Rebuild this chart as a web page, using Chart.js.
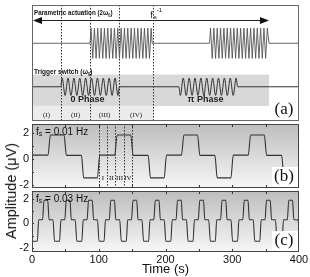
<!DOCTYPE html>
<html>
<head>
<meta charset="utf-8">
<script src="https://cdn.jsdelivr.net/npm/chart.js@4.4.0/dist/chart.umd.min.js"></script>
<style>
  body { margin: 0; background: #fff; width: 310px; height: 277px; overflow: hidden; position: relative; }
  canvas { position: absolute; left: 0; }
  #ylab { position: absolute; left: 11px; top: 191px; transform: translate(-50%, -50%) rotate(-90deg);
          font: 14.5px "Liberation Sans", Arial, sans-serif; color: #111; white-space: nowrap; }
</style>
</head>
<body>
<canvas id="chartA" width="310" height="124" style="top:0px"></canvas>
<canvas id="chartB" width="310" height="80" style="top:115px"></canvas>
<canvas id="chartC" width="310" height="95" style="top:182px"></canvas>
<div id="ylab">Amplitude (μV)</div>
<script>
// ---- panel (a): schematic, arbitrary 0-100 vertical units ----
const actTime = [0, 87,
  88.5, 91, 93.5, 96, 98.5, 101, 103.5, 106, 108.5, 111, 113.5, 116, 118.5, 121, 123.5, 126, 128.5, 131, 133.5,
  136, 138.5, 141, 143.5, 146, 148.5, 151, 153.5, 156, 158.5, 161, 163.5, 166, 168.5, 171, 173.5, 176, 178.5,
  180, 266,
  267.5, 270, 272.5, 275, 277.5, 280, 282.5, 285, 287.5, 290, 292.5, 295, 297.5, 300, 302.5, 305, 307.5, 310,
  312.5, 315, 317.5, 320, 322.5, 325, 327.5, 330, 332.5, 335, 337.5, 340, 342.5, 345, 347.5, 350, 352.5,
  355, 400];
const actLevel = [67, 67,
  80, 54, 80, 54, 80, 54, 80, 54, 80, 54, 80, 54, 80, 54, 80, 54, 80, 54, 80,
  54, 80, 54, 80, 54, 80, 54, 80, 54, 80, 54, 80, 54, 80, 54, 80, 54, 80,
  67, 67,
  80, 54, 80, 54, 80, 54, 80, 54, 80, 54, 80, 54, 80, 54, 80, 54, 80, 54,
  80, 54, 80, 54, 80, 54, 80, 54, 80, 54, 80, 54, 80, 54, 80, 54, 80,
  67, 67];

const trigTime = [0, 43,
  45.2, 49.6, 54, 58.4, 62.8, 67.2, 71.6, 76, 80.4, 84.8, 89.2, 93.6, 98, 102.4, 106.8, 111.2, 115.6, 120, 124.4, 128.8,
  131, 220,
  222.2, 226.6, 231, 235.4, 239.8, 244.2, 248.6, 253, 257.4, 261.8, 266.2, 270.6, 275, 279.4, 283.8, 288.2, 292.6, 297, 301.4, 305.8,
  308, 400];
const trigLevel = [29.5, 29.5,
  37, 22, 37, 22, 37, 22, 37, 22, 37, 22, 37, 22, 37, 22, 37, 22, 37, 22, 37, 22,
  29.5, 29.5,
  22, 37, 22, 37, 22, 37, 22, 37, 22, 37, 22, 37, 22, 37, 22, 37, 22, 37, 22, 37,
  29.5, 29.5];

const phaseEdgesA = [43.5, 87, 130.5, 181.5];
const phaseNamesA = ['(I)', '(II)', '(III)', '(IV)'];

// ---- panel (b): fs = 0.01 Hz ----
const bTime = [0, 24, 27.5, 48, 51.5, 74, 77.5, 98,
  101.5, 124, 127.5, 148, 151.5, 174, 177.5, 198,
  201.5, 224, 227.5, 248, 251.5, 274, 277.5, 298,
  301.5, 324, 327.5, 348, 351.5, 374, 377.5, 398, 400];
const bAmp = [0.3, 0.3, 1.85, 1.85, 0.28, 0.28, -1.45, -1.45,
  0.3, 0.3, 1.85, 1.85, 0.28, 0.28, -1.45, -1.45,
  0.3, 0.3, 1.85, 1.85, 0.28, 0.28, -1.45, -1.45,
  0.3, 0.3, 1.85, 1.85, 0.28, 0.28, -1.45, -1.45, -0.9];
const phaseEdgesB = [100, 112.5, 125, 137.5, 150];
const phaseNamesB = ['I', 'II', 'III', 'IV'];

// ---- panel (c): fs = 0.03 Hz ----
const cTime = [
  0, 8, 10, 15.8, 18, 23.6, 25.6, 31.4,
  33.8, 41.3, 43.3, 49.1, 51.3, 56.9, 58.9, 64.7,
  67.2, 74.7, 76.7, 82.5, 84.7, 90.3, 92.3, 98.1,
  100.5, 108, 110, 115.8, 118, 123.6, 125.6, 131.4,
  133.8, 141.3, 143.3, 149.1, 151.3, 156.9, 158.9, 164.7,
  167.2, 174.7, 176.7, 182.5, 184.7, 190.3, 192.3, 198.1,
  200.5, 208, 210, 215.8, 218, 223.6, 225.6, 231.4,
  233.8, 241.3, 243.3, 249.1, 251.3, 256.9, 258.9, 264.7,
  267.2, 274.7, 276.7, 282.5, 284.7, 290.3, 292.3, 298.1,
  300.5, 308, 310, 315.8, 318, 323.6, 325.6, 331.4,
  333.8, 341.3, 343.3, 349.1, 351.3, 356.9, 358.9, 364.7,
  367.2, 374.7, 376.7, 382.5, 384.7, 390.3, 392.3, 398.1, 400];
const cAmp = [
  -1.45, -1.45, 0.3, 0.3, 1.9, 1.9, 0.3, 0.3,
  -1.45, -1.45, 0.3, 0.3, 1.9, 1.9, 0.3, 0.3,
  -1.45, -1.45, 0.3, 0.3, 1.9, 1.9, 0.3, 0.3,
  -1.45, -1.45, 0.3, 0.3, 1.9, 1.9, 0.3, 0.3,
  -1.45, -1.45, 0.3, 0.3, 1.9, 1.9, 0.3, 0.3,
  -1.45, -1.45, 0.3, 0.3, 1.9, 1.9, 0.3, 0.3,
  -1.45, -1.45, 0.3, 0.3, 1.9, 1.9, 0.3, 0.3,
  -1.45, -1.45, 0.3, 0.3, 1.9, 1.9, 0.3, 0.3,
  -1.45, -1.45, 0.3, 0.3, 1.9, 1.9, 0.3, 0.3,
  -1.45, -1.45, 0.3, 0.3, 1.9, 1.9, 0.3, 0.3,
  -1.45, -1.45, 0.3, 0.3, 1.9, 1.9, 0.3, 0.3,
  -1.45, -1.45, 0.3, 0.3, 1.9, 1.9, 0.3, 0.3, -0.2];

const yTicks = [-2, -1, 0, 1, 2];
const xTicks = [0, 100, 200, 300, 400];
const xMinorTicks = [50, 100, 150, 200, 250, 300, 350];

const SANS = '"Liberation Sans", Arial, sans-serif';
const SERIF = '"Liberation Serif", "Times New Roman", serif';

function pts(xs, ys) {
  return xs.map((x, i) => ({ x: x, y: ys[i] }));
}

// draw text pieces one after another (for sub/superscripts)
function runs(ctx, x, y, parts) {
  for (const [txt, font, dy] of parts) {
    ctx.font = font;
    ctx.fillText(txt, x, y + dy);
    x += ctx.measureText(txt).width;
  }
}

// same, but squeezed horizontally (narrow typeface look)
function narrowRuns(ctx, x, y, sx, parts) {
  ctx.save();
  ctx.translate(x, y);
  ctx.scale(sx, 1);
  runs(ctx, 0, 0, parts);
  ctx.restore();
}

function frameBox(ctx, a, color) {
  ctx.strokeStyle = color;
  ctx.lineWidth = 1;
  ctx.setLineDash([]);
  ctx.strokeRect(a.left + 0.5, a.top + 0.5, a.width - 1, a.height - 1);
}

function dashedAt(ctx, xScale, a, times) {
  ctx.save();
  ctx.strokeStyle = '#333';
  ctx.lineWidth = 1;
  ctx.setLineDash([1.5, 1.5]);
  times.forEach(t => {
    const px = Math.round(xScale.getPixelForValue(t)) + 0.5;
    ctx.beginPath();
    ctx.moveTo(px, a.top);
    ctx.lineTo(px, a.bottom);
    ctx.stroke();
  });
  ctx.restore();
}

// ---------------- Panel (a) ----------------
const panelA = {
  id: 'panelA',
  beforeDatasetsDraw(chart) {
    const { ctx, chartArea: a, scales: { x, y } } = chart;
    ctx.save();
    ctx.fillStyle = '#d8d8d8';
    ctx.fillRect(a.left, y.getPixelForValue(40), x.getPixelForValue(355) - a.left, y.getPixelForValue(13) - y.getPixelForValue(40));
    ctx.fillStyle = '#ebebeb';
    ctx.fillRect(a.left, y.getPixelForValue(13), x.getPixelForValue(182) - a.left, a.bottom - y.getPixelForValue(13));
    ctx.restore();
    dashedAt(ctx, x, a, phaseEdgesA);
  },
  afterDraw(chart) {
    const { ctx, chartArea: a, scales: { x, y } } = chart;
    ctx.save();
    ctx.fillStyle = '#111';
    ctx.textBaseline = 'alphabetic';
    ctx.textAlign = 'left';
    narrowRuns(ctx, a.left + 2, 15, 0.78, [['Parametric actuation (2ω', 'bold 8px ' + SANS, 0], ['0', 'bold 5px ' + SANS, 1.5], [')', 'bold 8px ' + SANS, 0]]);
    narrowRuns(ctx, a.left + 2, 74, 0.82, [['Trigger switch (ω', 'bold 8px ' + SANS, 0], ['0', 'bold 5px ' + SANS, 1.5], [')', 'bold 8px ' + SANS, 0]]);
    // f_s^-1
    ctx.font = '9px ' + SANS;
    ctx.fillText('f', x.getPixelForValue(177), 18);
    ctx.font = '6px ' + SANS;
    ctx.fillText('s', x.getPixelForValue(182.5), 19);
    ctx.fillText('-1', x.getPixelForValue(187), 12);
    // arrow
    const ay = 20.5, x0 = x.getPixelForValue(0), x1 = x.getPixelForValue(355);
    ctx.strokeStyle = '#222';
    ctx.lineWidth = 1;
    ctx.beginPath(); ctx.moveTo(x0 + 6, ay); ctx.lineTo(x1 - 6, ay); ctx.stroke();
    ctx.fillStyle = '#111';
    ctx.beginPath(); ctx.moveTo(x0 + 1, ay); ctx.lineTo(x0 + 10, ay - 3.5); ctx.lineTo(x0 + 10, ay + 3.5); ctx.closePath(); ctx.fill();
    ctx.beginPath(); ctx.moveTo(x1, ay); ctx.lineTo(x1 - 9, ay - 3.5); ctx.lineTo(x1 - 9, ay + 3.5); ctx.closePath(); ctx.fill();
    // phase texts
    ctx.textAlign = 'center';
    ctx.textBaseline = 'middle';
    ctx.font = 'bold 9px ' + SANS;
    ctx.fillStyle = '#222';
    ctx.fillText('0 Phase', x.getPixelForValue(83), 100);
    ctx.fillText('π Phase', x.getPixelForValue(260), 100);
    ctx.font = '7px ' + SERIF;
    const edges = [0].concat(phaseEdgesA);
    phaseNamesA.forEach((n, i) => {
      ctx.fillText(n, x.getPixelForValue((edges[i] + edges[i + 1]) / 2), 115);
    });
    ctx.font = '17px ' + SERIF;
    ctx.fillStyle = '#111';
    ctx.fillText('(a)', 284, 110);
    frameBox(ctx, a, '#666');
    ctx.restore();
  }
};

new Chart(document.getElementById('chartA').getContext('2d'), {
  type: 'line',
  data: {
    datasets: [
      { data: pts(actTime, actLevel), borderColor: '#555', borderWidth: 0.9, pointRadius: 0, tension: 0 },
      { data: pts(trigTime, trigLevel), borderColor: '#333', borderWidth: 1, pointRadius: 0, cubicInterpolationMode: 'monotone' }
    ]
  },
  options: {
    responsive: false, animation: false, devicePixelRatio: 1,
    layout: { padding: { left: 32, right: 11, top: 5, bottom: 3 } },
    plugins: { legend: { display: false }, tooltip: { enabled: false } },
    scales: {
      x: { type: 'linear', min: 0, max: 400, display: false },
      y: { min: 0, max: 100, display: false }
    }
  },
  plugins: [panelA]
});

// ---------------- Panels (b) and (c) ----------------
function tracePanel(label, fsText, edges, names) {
  return {
    id: 'trace' + label,
    beforeDraw(chart) {
      const { ctx, chartArea: a } = chart;
      const g = ctx.createLinearGradient(0, a.top, 0, a.bottom);
      g.addColorStop(0, '#bdbdbd');
      g.addColorStop(1, '#f7f7f7');
      ctx.save();
      ctx.fillStyle = g;
      ctx.fillRect(a.left, a.top, a.width, a.height);
      ctx.restore();
    },
    beforeDatasetsDraw(chart) {
      if (edges) dashedAt(chart.ctx, chart.scales.x, chart.chartArea, edges);
    },
    afterDraw(chart) {
      const { ctx, chartArea: a, scales: { x, y } } = chart;
      ctx.save();
      // tick marks pointing inward
      ctx.strokeStyle = '#333';
      ctx.lineWidth = 1;
      xMinorTicks.forEach(t => {
        const px = Math.round(x.getPixelForValue(t)) + 0.5;
        ctx.beginPath(); ctx.moveTo(px, a.top); ctx.lineTo(px, a.top + 3); ctx.stroke();
        ctx.beginPath(); ctx.moveTo(px, a.bottom); ctx.lineTo(px, a.bottom - 3); ctx.stroke();
      });
      yTicks.forEach(v => {
        const py = Math.round(y.getPixelForValue(v)) + 0.5;
        ctx.beginPath(); ctx.moveTo(a.left, py); ctx.lineTo(a.left + 2, py); ctx.stroke();
      });
      // fs label
      ctx.fillStyle = '#111';
      ctx.textBaseline = 'middle';
      ctx.textAlign = 'left';
      runs(ctx, a.left + 4, a.top + 8, [['f', '10px ' + SANS, 0], ['s', '7px ' + SANS, 2.5], [fsText, '10px ' + SANS, 0]]);
      // phase names
      if (edges) {
        ctx.textAlign = 'center';
        ctx.font = '7px ' + SERIF;
        names.forEach((n, i) => {
          ctx.fillText(n, x.getPixelForValue((edges[i] + edges[i + 1]) / 2), a.bottom - 10);
        });
      }
      // panel tag
      ctx.fillStyle = '#fff';
      ctx.fillRect(a.right - 27, a.bottom - 21, 26, 20);
      ctx.fillStyle = '#111';
      ctx.textAlign = 'center';
      ctx.font = '17px ' + SERIF;
      ctx.fillText(label, a.right - 15, a.bottom - 11);
      frameBox(ctx, a, '#444');
      ctx.restore();
    }
  };
}

function yAxis(min, max) {
  return {
    min: min, max: max,
    afterBuildTicks: s => { s.ticks = yTicks.map(v => ({ value: v })); },
    afterFit: s => { s.width = 32; s.paddingTop = 0; s.paddingBottom = 0; },
    grid: { display: false, drawTicks: false },
    border: { display: false },
    ticks: { font: { family: SANS, size: 11 }, color: '#111', padding: 3 }
  };
}

new Chart(document.getElementById('chartB').getContext('2d'), {
  type: 'line',
  data: {
    datasets: [{ data: pts(bTime, bAmp), borderColor: '#333', borderWidth: 1.1, pointRadius: 0, cubicInterpolationMode: 'monotone' }]
  },
  options: {
    responsive: false, animation: false, devicePixelRatio: 1,
    layout: { padding: { left: 0, right: 11, top: 9, bottom: 7 } },
    plugins: { legend: { display: false }, tooltip: { enabled: false } },
    scales: {
      x: { type: 'linear', min: 0, max: 400, display: false },
      y: yAxis(-2.23, 2.69)
    }
  },
  plugins: [tracePanel('(b)', ' = 0.01 Hz', phaseEdgesB, phaseNamesB)]
});

new Chart(document.getElementById('chartC').getContext('2d'), {
  type: 'line',
  data: {
    datasets: [{ data: pts(cTime, cAmp), borderColor: '#333', borderWidth: 1.1, pointRadius: 0, cubicInterpolationMode: 'monotone' }]
  },
  options: {
    responsive: false, animation: false, devicePixelRatio: 1,
    layout: { padding: { left: 0, right: 11, top: 9, bottom: 0 } },
    plugins: { legend: { display: false }, tooltip: { enabled: false } },
    scales: {
      x: {
        type: 'linear', min: 0, max: 400,
        afterBuildTicks: s => { s.ticks = xTicks.map(v => ({ value: v })); },
        afterFit: s => { s.height = 25; s.paddingLeft = 0; s.paddingRight = 0; },
        grid: { display: false, drawTicks: false },
        border: { display: false },
        ticks: { font: { family: SANS, size: 11 }, color: '#111', padding: 1, maxRotation: 0 },
        title: { display: true, text: 'Time (s)', font: { family: SANS, size: 13 }, color: '#111', padding: { top: 0, bottom: 0 } }
      },
      y: yAxis(-2.33, 2.65)
    }
  },
  plugins: [tracePanel('(c)', ' = 0.03 Hz', null, null)]
});
</script>
</body>
</html>
